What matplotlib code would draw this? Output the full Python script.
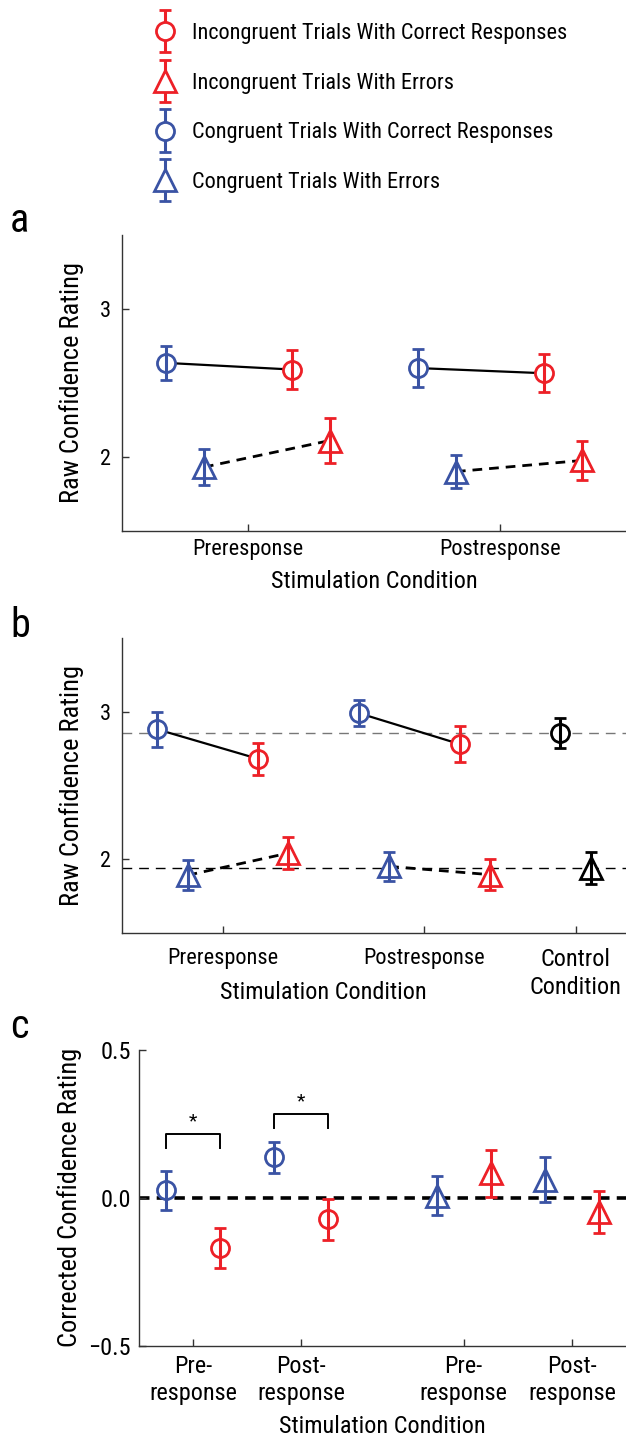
import matplotlib
matplotlib.use('Agg')
import numpy as np
import matplotlib.pyplot as plt
from matplotlib import font_manager
from matplotlib.container import ErrorbarContainer
from matplotlib.legend_handler import HandlerErrorbar
from matplotlib.ticker import FuncFormatter

RED = '#ED2027'
BLUE = '#3A53A4'

# panel a: raw confidence per stimulation condition
stim_labels = ['Preresponse', 'Postresponse']
a_inc_correct = [2.59, 2.565]
a_inc_correct_err = [0.13, 0.13]
a_inc_error = [2.11, 1.975]
a_inc_error_err = [0.15, 0.13]
a_con_correct = [2.635, 2.60]
a_con_correct_err = [0.115, 0.13]
a_con_error = [1.93, 1.90]
a_con_error_err = [0.12, 0.11]

# panel b: raw confidence incl. control condition
b_labels = ['Preresponse', 'Postresponse', 'Control\nCondition']
b_inc_correct = [2.68, 2.78]
b_inc_correct_err = [0.11, 0.12]
b_inc_error = [2.04, 1.894]
b_inc_error_err = [0.11, 0.105]
b_con_correct = [2.88, 2.99]
b_con_correct_err = [0.12, 0.09]
b_con_error = [1.89, 1.95]
b_con_error_err = [0.10, 0.10]
ctrl_correct = [2.855]
ctrl_correct_err = [0.10]
ctrl_error = [1.94]
ctrl_error_err = [0.11]

# panel c: corrected confidence
c_labels = ['Pre-\nresponse', 'Post-\nresponse', 'Pre-\nresponse', 'Post-\nresponse']
c_con_correct = [0.025, 0.137]
c_con_correct_err = [0.065, 0.052]
c_inc_correct = [-0.169, -0.073]
c_inc_correct_err = [0.067, 0.068]
c_con_error = [0.007, 0.061]
c_con_error_err = [0.066, 0.076]
c_inc_error = [0.083, -0.048]
c_inc_error_err = [0.08, 0.07]
sig_marks = ['*', '*']
sig_levels = [0.216, 0.284]

legend_labels = ['Incongruent Trials With Correct Responses',
                 'Incongruent Trials With Errors',
                 'Congruent Trials With Correct Responses',
                 'Congruent Trials With Errors']

avail = {f.name for f in font_manager.fontManager.ttflist}
if 'Roboto Condensed' in avail:
  plt.rcParams['font.family'] = ['Roboto Condensed', 'DejaVu Sans']
else:
  plt.rcParams['font.family'] = ['DejaVu Sans']
  plt.rcParams['font.stretch'] = 'condensed'

TICK_FS = 16
LABEL_FS = 17.5
YLABEL_FS = 19


def series(ax, x, y, err, color, marker):
  ms = 13 if marker == 'o' else 16
  return ax.errorbar(x, y, yerr=err, fmt=marker, ms=ms, mfc='white', mec=color, mew=2,
                     ecolor=color, elinewidth=2.2, capsize=4.5, capthick=2.2,
                     barsabove=True, zorder=3)


def style_axes(ax):
  ax.spines['top'].set_visible(False)
  ax.spines['right'].set_visible(False)
  for s in ('left', 'bottom'):
    ax.spines[s].set_linewidth(1.0)
    ax.spines[s].set_color('#333333')
  ax.tick_params(direction='in', length=5, width=1, color='#333333', labelsize=TICK_FS)


def connect(ax, x1, y1, x2, y2, dashed):
  for a, b, c, d in zip(x1, y1, x2, y2):
    if dashed:
      ax.plot([a, c], [b, d], color='black', lw=2, ls=(0, (3.5, 2.5)), zorder=2)
    else:
      ax.plot([a, c], [b, d], color='black', lw=1.6, zorder=2)


fig = plt.figure(figsize=(6.26, 14.38), dpi=100)
W, H = 626.0, 1438.0

# ---- panel a
ax_a = fig.add_axes([122 / W, 1 - 530.7 / H, 1 - 122 / W, (530.7 - 235) / H])
xs = np.arange(1, len(stim_labels) + 1)
connect(ax_a, xs - 0.325, a_con_correct, xs + 0.175, a_inc_correct, False)
connect(ax_a, xs - 0.175, a_con_error, xs + 0.325, a_inc_error, True)
h_ic = series(ax_a, xs + 0.175, a_inc_correct, a_inc_correct_err, RED, 'o')
h_ie = series(ax_a, xs + 0.325, a_inc_error, a_inc_error_err, RED, '^')
h_cc = series(ax_a, xs - 0.325, a_con_correct, a_con_correct_err, BLUE, 'o')
h_ce = series(ax_a, xs - 0.175, a_con_error, a_con_error_err, BLUE, '^')
ax_a.set_xlim(0.5, 2.5)
ax_a.set_ylim(1.5, 3.5)
ax_a.set_yticks([2, 3])
ax_a.set_xticks(xs)
ax_a.set_xticklabels(stim_labels)
style_axes(ax_a)
ax_a.tick_params(axis='x', pad=6)
ax_a.tick_params(axis='y', pad=8)
ax_a.set_xlabel('Stimulation Condition', fontsize=LABEL_FS, labelpad=7)
ax_a.set_ylabel('Raw Confidence Rating', fontsize=YLABEL_FS)
ax_a.yaxis.set_label_coords(-0.075, 0.5)

# ---- panel b
ax_b = fig.add_axes([122 / W, 1 - 932.7 / H, 1 - 122 / W, (932.7 - 638) / H])
ctrl_x = 2.75
ax_b.axhline(ctrl_correct[0], color='#777777', lw=1.0, ls=(0, (7, 5)), zorder=1)
ax_b.axhline(ctrl_error[0], color='black', lw=1.0, ls=(0, (7, 5)), zorder=1)
connect(ax_b, xs - 0.325, b_con_correct, xs + 0.175, b_inc_correct, False)
connect(ax_b, xs - 0.175, b_con_error, xs + 0.325, b_inc_error, True)
series(ax_b, xs + 0.175, b_inc_correct, b_inc_correct_err, RED, 'o')
series(ax_b, xs + 0.325, b_inc_error, b_inc_error_err, RED, '^')
series(ax_b, xs - 0.325, b_con_correct, b_con_correct_err, BLUE, 'o')
series(ax_b, xs - 0.175, b_con_error, b_con_error_err, BLUE, '^')
series(ax_b, [ctrl_x - 0.075], ctrl_correct, ctrl_correct_err, 'black', 'o')
series(ax_b, [ctrl_x + 0.075], ctrl_error, ctrl_error_err, 'black', '^')
ax_b.set_xlim(0.5, 3.0)
ax_b.set_ylim(1.5, 3.5)
ax_b.set_yticks([2, 3])
ax_b.set_xticks(list(xs) + [ctrl_x])
ax_b.set_xticklabels(b_labels)
style_axes(ax_b)
ctrl_lbl = ax_b.get_xticklabels()[2]
ctrl_lbl.set_fontsize(LABEL_FS)
ctrl_lbl.set_linespacing(1.3)
ax_b.tick_params(axis='x', pad=11)
ax_b.tick_params(axis='y', pad=8)
ax_b.set_xlabel('Stimulation Condition', fontsize=LABEL_FS)
ax_b.xaxis.set_label_coords(0.4, -0.163)
ax_b.set_ylabel('Raw Confidence Rating', fontsize=YLABEL_FS)
ax_b.yaxis.set_label_coords(-0.075, 0.5)

# ---- panel c
ax_c = fig.add_axes([139 / W, 1 - 1345.7 / H, 1 - 139 / W, (1345.7 - 1050) / H])
xc = np.array([1.0, 2.0])
xe = np.array([3.5, 4.5])
ax_c.axhline(0, color='black', lw=2.6, ls=(0, (2.9, 2.0)), zorder=1)
series(ax_c, xc - 0.25, c_con_correct, c_con_correct_err, BLUE, 'o')
series(ax_c, xc + 0.25, c_inc_correct, c_inc_correct_err, RED, 'o')
series(ax_c, xe - 0.25, c_con_error, c_con_error_err, BLUE, '^')
series(ax_c, xe + 0.25, c_inc_error, c_inc_error_err, RED, '^')
for x, lvl, mark in zip(xc, sig_levels, sig_marks):
  ax_c.plot([x - 0.25, x - 0.25, x + 0.25, x + 0.25], [lvl - 0.047, lvl, lvl, lvl - 0.047],
            color='black', lw=1.4, zorder=2)
  ax_c.text(x, lvl + 0.012, mark, ha='center', va='bottom', fontsize=14)
ax_c.set_xlim(0.5, 5.0)
ax_c.set_ylim(-0.5, 0.5)
ax_c.set_yticks([-0.5, 0, 0.5])
ax_c.yaxis.set_major_formatter(FuncFormatter(lambda v, p: f'{v:.1f}'.replace('-', '\u2212')))
ax_c.set_xticks(list(xc) + list(xe))
ax_c.set_xticklabels(c_labels)
style_axes(ax_c)
ax_c.tick_params(axis='x', pad=7, labelsize=LABEL_FS)
ax_c.tick_params(axis='y', pad=6, labelsize=LABEL_FS)
ax_c.set_xlabel('Stimulation Condition', fontsize=LABEL_FS, labelpad=7)
ax_c.set_ylabel('Corrected Confidence Rating', fontsize=YLABEL_FS)
ax_c.yaxis.set_label_coords(-0.118, 0.5)

# ---- legend and panel letters
fig.legend([h_ic, h_ie, h_cc, h_ce], legend_labels, loc='upper left',
           bbox_to_anchor=(154 / W, 1 - 23 / H), frameon=False, fontsize=16,
           borderpad=0, borderaxespad=0, handlelength=1.0, handletextpad=0.7,
           labelspacing=1.29,
           handler_map={ErrorbarContainer: HandlerErrorbar(yerr_size=0.95)})

for letter, base in zip(['a', 'b', 'c'], [232, 637, 1038]):
  fig.text(10 / W, 1 - base / H, letter, fontsize=29, va='baseline', ha='left')

fig.savefig('out.png', dpi=100)
